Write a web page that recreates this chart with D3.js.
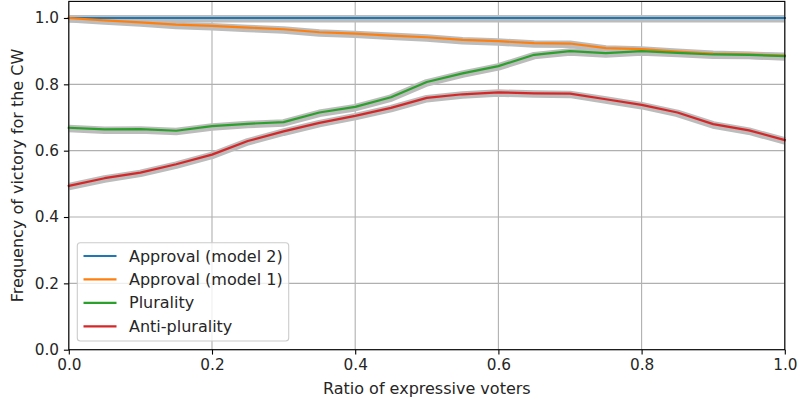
<!DOCTYPE html>
<html>
<head>
<meta charset="utf-8">
<script src="https://cdn.jsdelivr.net/npm/d3@7"></script>
<style>
  html, body { margin: 0; padding: 0; background: #fff; }
  svg { display: block; font-family: "DejaVu Sans", sans-serif; }
</style>
</head>
<body>
<svg id="chart" width="798" height="406"></svg>
<script>
const ratios = [0, 0.05, 0.1, 0.15, 0.2, 0.25, 0.3, 0.35, 0.4, 0.45, 0.5, 0.55, 0.6, 0.65, 0.7, 0.75, 0.8, 0.85, 0.9, 0.95, 1.0];
const approvalModel2 = [1, 1, 1, 1, 1, 1, 1, 1, 1, 1, 1, 1, 1, 1, 1, 1, 1, 1, 1, 1, 1];
const approvalModel1 = [1.0, 0.993, 0.987, 0.980, 0.976, 0.971, 0.966, 0.957, 0.953, 0.947, 0.942, 0.934, 0.930, 0.924, 0.923, 0.909, 0.906, 0.899, 0.893, 0.890, 0.887];
const plurality = [0.669, 0.664, 0.665, 0.660, 0.674, 0.681, 0.686, 0.715, 0.732, 0.761, 0.807, 0.833, 0.855, 0.889, 0.900, 0.894, 0.900, 0.895, 0.890, 0.889, 0.885];
const antiPlurality = [0.494, 0.517, 0.534, 0.559, 0.588, 0.629, 0.658, 0.684, 0.705, 0.729, 0.759, 0.770, 0.776, 0.773, 0.772, 0.755, 0.738, 0.715, 0.680, 0.661, 0.632];
const seriesNames = ["Approval (model 2)", "Approval (model 1)", "Plurality", "Anti-plurality"];
const seriesColors = ["#1f77b4", "#ff7f0e", "#2ca02c", "#d62728"];
const xTicks = [0, 0.2, 0.4, 0.6, 0.8, 1.0];
const yTicks = [0, 0.2, 0.4, 0.6, 0.8, 1.0];
const xLabel = "Ratio of expressive voters";
const yLabel = "Frequency of victory for the CW";

const series = [approvalModel2, approvalModel1, plurality, antiPlurality];

const margin = { left: 68.8, right: 798 - 784.8, top: 1.4, bottom: 406 - 349.7 };
const W = 798, H = 406;
const svg = d3.select("#chart");

const x = d3.scaleLinear().domain([0, 1]).range([margin.left, W - margin.right]);
const y = d3.scaleLinear().domain([0, 1.05]).range([H - margin.bottom, margin.top]);

const fsTick = 15.3;
const fs = 16;

// grid
const grid = svg.append("g");
grid.selectAll(".gx").data(xTicks).enter().append("line")
  .attr("x1", d => x(d)).attr("x2", d => x(d))
  .attr("y1", y(0)).attr("y2", y(1.05))
  .attr("stroke", "#b0b0b0").attr("stroke-width", 1.1);
grid.selectAll(".gy").data(yTicks).enter().append("line")
  .attr("x1", x(0)).attr("x2", x(1))
  .attr("y1", d => y(d)).attr("y2", d => y(d))
  .attr("stroke", "#b0b0b0").attr("stroke-width", 1.1);

const line = d3.line().x((d, i) => x(ratios[i])).y(d => y(d));

const plot = svg.append("g");
// gray bands
series.forEach((s, k) => {
  plot.append("path").datum(s)
    .attr("d", line)
    .attr("transform", "translate(0,0.8)")
    .attr("fill", "none")
    .attr("stroke", "#bcbcbc")
    .attr("stroke-width", 7.5)
    .attr("stroke-linejoin", "round");
});
series.forEach((s, k) => {
  plot.append("path").datum(s)
    .attr("d", line)
    .attr("fill", "none")
    .attr("stroke", seriesColors[k])
    .attr("stroke-width", 2.2)
    .attr("stroke-linejoin", "round")
    .attr("stroke-linecap", "square");
});

// axes
const xAxis = d3.axisBottom(x).tickValues(xTicks).tickFormat(d3.format(".1f")).tickSize(4.9).tickPadding(4.9);
const yAxis = d3.axisLeft(y).tickValues(yTicks).tickFormat(d3.format(".1f")).tickSize(4.9).tickPadding(4.9);

const gx = svg.append("g").attr("transform", `translate(0,${y(0)})`).call(xAxis);
const gy = svg.append("g").attr("transform", `translate(${x(0)},0)`).call(yAxis);
[gx, gy].forEach(g => {
  g.select(".domain").remove();
  g.selectAll("line").attr("stroke", "#000").attr("stroke-width", 1.1);
  g.selectAll("text").attr("font-size", fsTick).attr("fill", "#262626").attr("font-family", "DejaVu Sans");
});

// frame
svg.append("rect")
  .attr("x", x(0)).attr("y", y(1.05))
  .attr("width", x(1) - x(0)).attr("height", y(0) - y(1.05))
  .attr("fill", "none").attr("stroke", "#000").attr("stroke-width", 1.1);

// labels
svg.append("text")
  .attr("x", (x(0) + x(1)) / 2).attr("y", 394)
  .attr("text-anchor", "middle").attr("font-size", fs).attr("fill", "#262626")
  .text(xLabel);
svg.append("text")
  .attr("transform", `translate(23,${(y(0) + y(1.05)) / 2}) rotate(-90)`)
  .attr("text-anchor", "middle").attr("font-size", fs).attr("fill", "#262626")
  .text(yLabel);

// legend
const lg = svg.append("g");
lg.append("rect")
  .attr("x", 77.3).attr("y", 242.7).attr("width", 211.4).attr("height", 98.3)
  .attr("rx", 3).attr("ry", 3)
  .attr("fill", "#fff").attr("fill-opacity", 0.8)
  .attr("stroke", "#cccccc").attr("stroke-width", 1.1);
seriesNames.forEach((name, k) => {
  const yy = 256 + k * 23.45;
  lg.append("line")
    .attr("x1", 83.5).attr("x2", 116.5).attr("y1", yy).attr("y2", yy)
    .attr("stroke", seriesColors[k]).attr("stroke-width", 2.2);
  lg.append("text")
    .attr("x", 129).attr("y", yy + 5.5)
    .attr("font-size", fs).attr("fill", "#262626")
    .text(name);
});
</script>
</body>
</html>
